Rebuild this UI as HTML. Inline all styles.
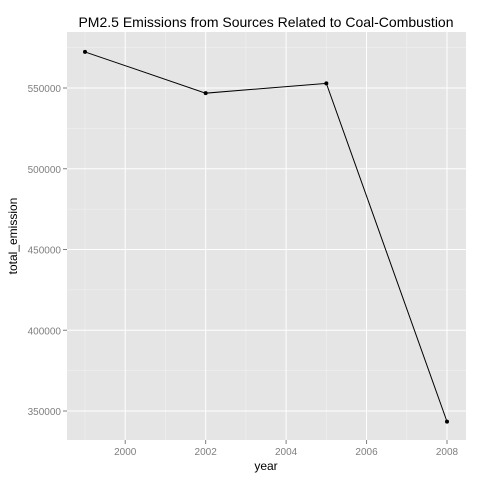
<!DOCTYPE html>
<html><head><meta charset="utf-8"><style>body{margin:0;background:#fff}svg{display:block;font-family:"Liberation Sans",sans-serif}</style></head>
<body>
<svg id="c" width="480" height="480"></svg>
<script>
const years=[1999,2002,2005,2008];
const emissions=[572346,546789,552881,343432];
const xTicks=[2000,2002,2004,2006,2008];
const yTicks=[350000,400000,450000,500000,550000];
const L=67,R=466,T=32,B=440;
const sx=v=>85+(v-1999)*(447-85)/9;
const sy=v=>88+(550000-v)*(411-88)/200000;
const s=document.getElementById('c');const NS='http://www.w3.org/2000/svg';
function mk(t,a,txt){const e=document.createElementNS(NS,t);for(const k in a)e.setAttribute(k,a[k]);if(txt!=null)e.textContent=txt;s.appendChild(e);return e;}
let e=mk('rect',{x:L,y:T,width:R-L,height:B-T,fill:'#e5e5e5'});


for(let i=0;i<xTicks.length+1;i++){const v=xTicks[0]-1+2*i;if(sx(v)>L&&sx(v)<R){e=mk('line',{x1:sx(v),x2:sx(v),y1:T,y2:B,stroke:'#f2f2f2','stroke-width':0.5});}}
for(let i=0;i<yTicks.length+1;i++){const v=yTicks[0]-25000+50000*i;if(sy(v)>T&&sy(v)<B){e=mk('line',{x1:L,x2:R,y1:sy(v),y2:sy(v),stroke:'#f2f2f2','stroke-width':0.5});}}
xTicks.forEach(v=>{e=mk('line',{x1:sx(v),x2:sx(v),y1:T,y2:B,stroke:'#fff','stroke-width':1});
e=mk('line',{x1:sx(v),x2:sx(v),y1:B,y2:B+4,stroke:'#7f7f7f'});
e=mk('text',{x:sx(v),y:B+15,'text-anchor':'middle','font-size':10,fill:'#7f7f7f'},v);});
yTicks.forEach(v=>{e=mk('line',{x1:L,x2:R,y1:sy(v),y2:sy(v),stroke:'#fff','stroke-width':1});
e=mk('line',{x1:L-4,x2:L,y1:sy(v),y2:sy(v),stroke:'#7f7f7f'});
e=mk('text',{x:L-6,y:sy(v)+4,'text-anchor':'end','font-size':10,fill:'#7f7f7f'},v);});
e=mk('polyline',{points:years.map((y,i)=>sx(y)+','+sy(emissions[i])).join(' '),fill:'none',stroke:'#000','stroke-width':1});


years.forEach((y,i)=>{e=mk('circle',{cx:sx(y),cy:sy(emissions[i]),r:2,fill:'#000'});});
e=mk('text',{x:266,y:27,'text-anchor':'middle','font-size':14,fill:'#000'},'PM2.5 Emissions from Sources Related to Coal-Combustion');


e=mk('text',{x:266,y:470,'text-anchor':'middle','font-size':12,fill:'#000'},'year');


e=mk('text',{x:0,y:0,'text-anchor':'middle','font-size':12,fill:'#000',transform:'translate(17,236) rotate(-90)'},'total_emission');


</script>
</body></html>
